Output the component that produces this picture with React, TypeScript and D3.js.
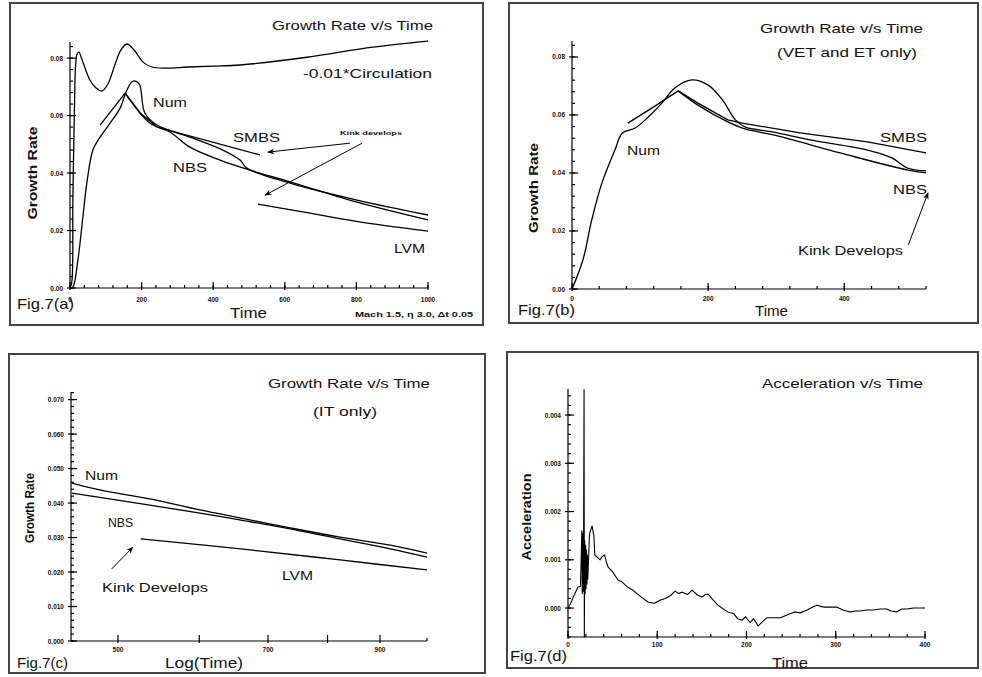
import React, { useEffect, useRef } from 'react';
import * as d3 from 'd3';

type Pt = [number, number];

// ---- Fig.7(a) : growth rate vs time ----
const circA: Pt[] = [
  [0, 0], [5, 0.002], [8, 0.03], [12, 0.06], [16, 0.078], [20, 0.0815], [25, 0.0821],
  [32, 0.08], [39, 0.0776], [56, 0.0723], [73, 0.0696], [89, 0.0685], [106, 0.071],
  [126, 0.0779], [142, 0.0828], [159, 0.0849], [179, 0.0828], [204, 0.0786], [229, 0.0769],
  [265, 0.0765], [330, 0.0769], [400, 0.0772], [475, 0.0776], [662, 0.0803], [846, 0.0838], [1000, 0.0859],
];
const numA: Pt[] = [
  [0, 0], [8, 0.0003], [22, 0.0097], [36, 0.0247], [47, 0.0365], [64, 0.048], [84, 0.0525],
  [112, 0.0574], [140, 0.0626], [159, 0.0689], [176, 0.072], [193, 0.071], [209, 0.0609],
  [243, 0.0567], [335, 0.0525], [427, 0.048], [475, 0.0445], [494, 0.0417], [615, 0.0365],
  [802, 0.0306], [1000, 0.0254],
];
const smbsA: Pt[] = [[84, 0.0567], [154, 0.0678], [196, 0.0609], [243, 0.056], [531, 0.0463]];
const nbsA: Pt[] = [
  [154, 0.0678], [223, 0.0574], [279, 0.0543], [335, 0.049], [419, 0.0445], [503, 0.041],
  [615, 0.0369], [802, 0.0299], [1000, 0.0237],
];
const lvmA: Pt[] = [[525, 0.0292], [650, 0.0265], [800, 0.0232], [1000, 0.0198]];

// ---- Fig.7(b) : VET and ET only ----
const numB: Pt[] = [
  [0, 0], [16, 0.01], [29, 0.0238], [44, 0.0366], [63, 0.0479], [74, 0.0538], [93, 0.0555],
  [112, 0.0593], [132, 0.0641], [151, 0.0693], [176, 0.0721], [200, 0.0703], [221, 0.0652],
  [240, 0.0583], [254, 0.0559], [296, 0.0541], [350, 0.0514], [434, 0.0479], [470, 0.0452],
  [493, 0.0417], [520, 0.0407],
];
const smbsB: Pt[] = [
  [82, 0.0572], [120, 0.0628], [156, 0.0683], [185, 0.0641], [229, 0.0583], [250, 0.0572],
  [335, 0.0538], [434, 0.0507], [520, 0.0469],
];
const nbsB: Pt[] = [
  [156, 0.0683], [185, 0.0634], [229, 0.0576], [254, 0.0552], [296, 0.0531], [394, 0.0469],
  [493, 0.041], [520, 0.04],
];

// ---- Fig.7(c) : IT only, log time ----
const numC: Pt[] = [
  [451, 0.0458], [480, 0.0438], [537, 0.0412], [601, 0.038], [657, 0.0357], [736, 0.0328],
  [823, 0.0301], [921, 0.0278], [1000, 0.0255],
];
const nbsC: Pt[] = [
  [451, 0.0429], [537, 0.0394], [601, 0.0371], [657, 0.0351], [736, 0.0325], [823, 0.0296],
  [921, 0.0267], [1000, 0.0243],
];
const lvmC: Pt[] = [[526, 0.0296], [673, 0.0264], [823, 0.0235], [1000, 0.0206]];

// ---- Fig.7(d) : acceleration vs time ----
const accelD: Pt[] = [
  [0, 0], [3, 0.0001], [6, 0.00023], [9, 0.00035], [11, 0.00043], [14, 0.00045],
  [15, 0.0012], [15.5, 0.0016], [16, 0.0003], [16.5, 0.00155], [17, 0.00035], [17.5, 0.0015],
  [18, 0.00453], [18.3, -0.0006], [18.7, 0.0014], [19.2, 0.0003], [19.7, 0.0013], [20.2, 0.0004],
  [20.7, 0.0012], [21.2, 0.0005], [21.7, 0.0011], [22.2, 0.0006], [23, 0.001], [24, 0.0015],
  [25, 0.0016], [26, 0.00165], [27, 0.0017], [28, 0.0016], [29, 0.0015], [30, 0.0011],
  [33, 0.00105], [36, 0.001], [38, 0.00106], [41, 0.0011], [43, 0.00095], [45, 0.00085],
  [50, 0.00075], [56, 0.00058], [60, 0.00055], [64, 0.00048], [67, 0.00043], [72, 0.00038],
  [78, 0.00029], [84, 0.0002], [90, 0.00012], [97, 0.0001], [103, 0.00016], [109, 0.0002],
  [115, 0.00026], [120, 0.00035], [124, 0.0003], [128, 0.00033], [134, 0.00028], [139, 0.00037],
  [145, 0.00027], [150, 0.00023], [154, 0.00028], [157, 0.00029], [162, 0.00018], [168, 0.00006],
  [174, -0.00002], [179, -0.00008], [186, -0.00012], [190, -0.00022], [195, -0.00025],
  [199, -0.00018], [204, -0.0003], [208, -0.00022], [213, -0.00037], [218, -0.00028],
  [223, -0.0002], [230, -0.0002], [238, -0.0002], [246, -0.00014], [254, -0.00008], [260, -0.0001],
  [268, -0.00004], [274, 0.00002], [279, 0.00006], [284, 0.00003], [288, 0.00002], [295, 0.00002],
  [301, 0.00002], [308, -0.00004], [316, -0.00008], [322, -0.00006], [327, -0.00006],
  [335, -0.00004], [342, -0.00004], [350, -0.00002], [357, -0.00002], [362, -0.00006],
  [368, -0.00008], [374, -0.00002], [380, -0.00002], [387, 0], [400, 0],
];

// tick values / labels
const growthTicks = [0, 0.02, 0.04, 0.06, 0.08];
const growthLabels = ['0.00', '0.02', '0.04', '0.06', '0.08'];
const timeTicksA = [0, 200, 400, 600, 800, 1000];
const timeTicksB = [0, 200, 400];
const growthTicksC = [0, 0.01, 0.02, 0.03, 0.04, 0.05, 0.06, 0.07];
const growthLabelsC = ['0.000', '0.010', '0.020', '0.030', '0.040', '0.050', '0.060', '0.070'];
const logTimeTicks = [500, 600, 700, 800, 900];
const logTimeLabels = ['500', '', '700', '', '900'];
const accelTicks = [0, 0.001, 0.002, 0.003, 0.004];
const accelLabels = ['0.000', '0.001', '0.002', '0.003', '0.004'];
const timeTicksD = [0, 100, 200, 300, 400];

const FONT = '"Liberation Sans", Arial, sans-serif';

const W = 982;
const H = 677;

export default function App() {
  const svgRef = useRef<SVGSVGElement>(null);

  useEffect(() => {
    const svg = d3.select(svgRef.current);
    svg.selectAll('*').remove();
    svg.append('rect').attr('width', W).attr('height', H).attr('fill', '#fff');

    svg.append('defs').append('marker')
      .attr('id', 'arr')
      .attr('viewBox', '0 0 10 10')
      .attr('refX', 9).attr('refY', 5)
      .attr('markerWidth', 7).attr('markerHeight', 7)
      .attr('markerUnits', 'userSpaceOnUse')
      .attr('orient', 'auto')
      .append('path')
      .attr('d', 'M0,1 L10,5 L0,9 L3,5 Z')
      .attr('fill', '#000');

    // text with fixed width (old plotting package spacing)
    const txt = (s: string, x1: number, x2: number, yb: number, size: number, bold = false) =>
      svg.append('text')
        .attr('x', x1).attr('y', yb)
        .attr('textLength', x2 - x1).attr('lengthAdjust', 'spacingAndGlyphs')
        .attr('font-family', FONT).attr('font-size', size)
        .attr('font-weight', bold ? 'bold' : 'normal')
        .attr('fill', '#111')
        .text(s);

    const vtxt = (s: string, cx: number, cy: number, len: number, size: number) =>
      svg.append('text')
        .attr('transform', `translate(${cx},${cy}) rotate(-90)`)
        .attr('x', -len / 2).attr('y', 0)
        .attr('textLength', len).attr('lengthAdjust', 'spacingAndGlyphs')
        .attr('font-family', FONT).attr('font-size', size).attr('font-weight', 'bold')
        .attr('dominant-baseline', 'middle')
        .attr('fill', '#111')
        .text(s);

    const frame = (x1: number, y1: number, x2: number, y2: number) =>
      svg.append('rect')
        .attr('x', x1).attr('y', y1).attr('width', x2 - x1).attr('height', y2 - y1)
        .attr('fill', 'none').attr('stroke', '#444').attr('stroke-width', 2);

    const axes = (
      x: any, y: any,
      xMajor: number[], xLabels: string[], xMinor: number[],
      yMajor: number[], yLabels: string[], yMinor: number[],
      xLabY: number,
    ) => {
      const g = svg.append('g').attr('stroke', '#000').attr('stroke-width', 1.2);
      const [x0, x1] = x.range();
      const [y0, y1] = y.range();
      g.append('line').attr('x1', x0).attr('x2', x1).attr('y1', y0).attr('y2', y0);
      g.append('line').attr('x1', x0).attr('x2', x0).attr('y1', y0).attr('y2', y1);
      xMinor.forEach(v => g.append('line').attr('x1', x(v)).attr('x2', x(v)).attr('y1', y0).attr('y2', y0 - 3));
      xMajor.forEach(v => g.append('line').attr('x1', x(v)).attr('x2', x(v)).attr('y1', y0 + 2).attr('y2', y0 - 6));
      yMinor.forEach(v => g.append('line').attr('x1', x0).attr('x2', x0 + 3).attr('y1', y(v)).attr('y2', y(v)));
      yMajor.forEach(v => g.append('line').attr('x1', x0 - 3).attr('x2', x0 + 6).attr('y1', y(v)).attr('y2', y(v)));
      const lab = svg.append('g')
        .attr('font-family', FONT).attr('font-size', 6.5).attr('font-weight', 'bold').attr('fill', '#111');
      xMajor.forEach((v, i) => lab.append('text')
        .attr('x', x(v)).attr('y', xLabY).attr('text-anchor', 'middle').text(xLabels[i]));
      yMajor.forEach((v, i) => lab.append('text')
        .attr('x', x0 - 7).attr('y', y(v) + 2.5).attr('text-anchor', 'end').text(yLabels[i]));
    };

    const plot = (x: any, y: any, data: Pt[], curve: any = d3.curveCatmullRom, w = 1.3) => {
      const line = d3.line<Pt>().x(d => x(d[0])).y(d => y(d[1])).curve(curve);
      svg.append('path').datum(data)
        .attr('fill', 'none').attr('stroke', '#000').attr('stroke-width', w)
        .attr('stroke-linejoin', 'round')
        .attr('d', line);
    };

    const arrow = (x: any, y: any, from: Pt, to: Pt) =>
      svg.append('line')
        .attr('x1', x(from[0])).attr('y1', y(from[1]))
        .attr('x2', x(to[0])).attr('y2', y(to[1]))
        .attr('stroke', '#000').attr('stroke-width', 1)
        .attr('marker-end', 'url(#arr)');

    const minors = (lo: number, hi: number, step: number) =>
      d3.range(Math.round(lo / step), Math.round(hi / step) + 1).map(i => +(i * step).toFixed(6));

    // ---------- (a) ----------
    frame(10, 3, 483, 325);
    const xa = d3.scaleLinear().domain([0, 1000]).range([70, 428]);
    const ya = d3.scaleLinear().domain([0, 0.0856]).range([288, 42]);
    axes(xa, ya, timeTicksA, timeTicksA.map(String), minors(0, 1000, 40),
      growthTicks, growthLabels, minors(0, 0.084, 0.004), 302);
    plot(xa, ya, circA);
    plot(xa, ya, numA);
    plot(xa, ya, smbsA, d3.curveLinear);
    plot(xa, ya, nbsA);
    plot(xa, ya, lvmA);
    arrow(xa, ya, [782, 0.0504], [553, 0.0473]);
    arrow(xa, ya, [816, 0.0504], [545, 0.0323]);
    txt('Growth Rate v/s Time', 272, 433, 30, 13);
    txt('-0.01*Circulation', 303, 432, 78, 13);
    txt('Num', 153, 187, 107, 13);
    txt('SMBS', 233, 280, 142, 13);
    txt('NBS', 173, 207, 172, 13);
    txt('Kink develops', 340, 402, 135, 6, true);
    txt('LVM', 394, 425, 253, 13);
    txt('Time', 230, 267, 318, 15);
    txt('Fig.7(a)', 17, 74, 309, 15);
    txt('Mach 1.5, η 3.0, Δt 0.05', 355, 473, 317, 6.5, true);
    vtxt('Growth Rate', 34, 173, 93, 13);

    // ---------- (b) ----------
    frame(509, 3, 978, 323);
    const xb = d3.scaleLinear().domain([0, 520]).range([572, 926]);
    const yb = d3.scaleLinear().domain([0, 0.0855]).range([289, 41]);
    axes(xb, yb, timeTicksB, timeTicksB.map(String), minors(0, 520, 40),
      growthTicks, growthLabels, minors(0, 0.084, 0.004), 301);
    plot(xb, yb, numB);
    plot(xb, yb, smbsB, d3.curveLinear);
    plot(xb, yb, nbsB);
    arrow(xb, yb, [494, 0.0152], [523, 0.0331]);
    txt('Growth Rate v/s Time', 760, 923, 33, 13);
    txt('(VET and ET only)', 777, 917, 57, 13);
    txt('Num', 627, 660, 155, 13);
    txt('SMBS', 880, 927, 142, 13);
    txt('NBS', 893, 927, 194, 13);
    txt('Kink Develops', 798, 903, 255, 13);
    txt('Time', 755, 788, 316, 14);
    txt('Fig.7(b)', 518, 575, 315, 15);
    vtxt('Growth Rate', 535, 188, 90, 13);

    // ---------- (c) ----------
    frame(9, 354, 485, 673);
    const xc = d3.scaleLog().domain([450, 1000]).range([71, 427]);
    const yc = d3.scaleLinear().domain([0, 0.0722]).range([641, 392]);
    axes(xc, yc, logTimeTicks, logTimeLabels, [1000],
      growthTicksC, growthLabelsC, minors(0, 0.072, 0.002), 652);
    plot(xc, yc, numC);
    plot(xc, yc, nbsC);
    plot(xc, yc, lvmC);
    arrow(xc, yc, [493, 0.0209], [517, 0.0272]);
    txt('Growth Rate v/s Time', 268, 430, 388, 13);
    txt('(IT only)', 313, 377, 416, 13);
    txt('Num', 85, 118, 480, 13);
    txt('NBS', 108, 133, 527, 12);
    txt('Kink Develops', 102, 208, 592, 13);
    txt('LVM', 282, 313, 580, 12);
    txt('Fig.7(c)', 17, 68, 668, 15);
    txt('Log(Time)', 165, 243, 668, 15);
    vtxt('Growth Rate', 31, 508, 70, 12);

    // ---------- (d) ----------
    frame(507, 352, 978, 668);
    const xd = d3.scaleLinear().domain([0, 400]).range([568, 925]);
    const yd = d3.scaleLinear().domain([-0.0006, 0.00454]).range([637, 389]);
    axes(xd, yd, timeTicksD, timeTicksD.map(String), minors(0, 400, 20),
      accelTicks, accelLabels, minors(-0.0006, 0.0044, 0.0002), 647);
    plot(xd, yd, accelD, d3.curveLinear, 1.1);
    txt('Acceleration v/s Time', 762, 923, 388, 13);
    txt('Fig.7(d)', 510, 567, 661, 15);
    txt('Time', 772, 808, 668, 14);
    vtxt('Acceleration', 528, 517, 87, 13);
  }, []);

  return (
    <svg ref={svgRef} width={W} height={H} style={{ position: 'absolute', left: 0, top: 0 }} />
  );
}
